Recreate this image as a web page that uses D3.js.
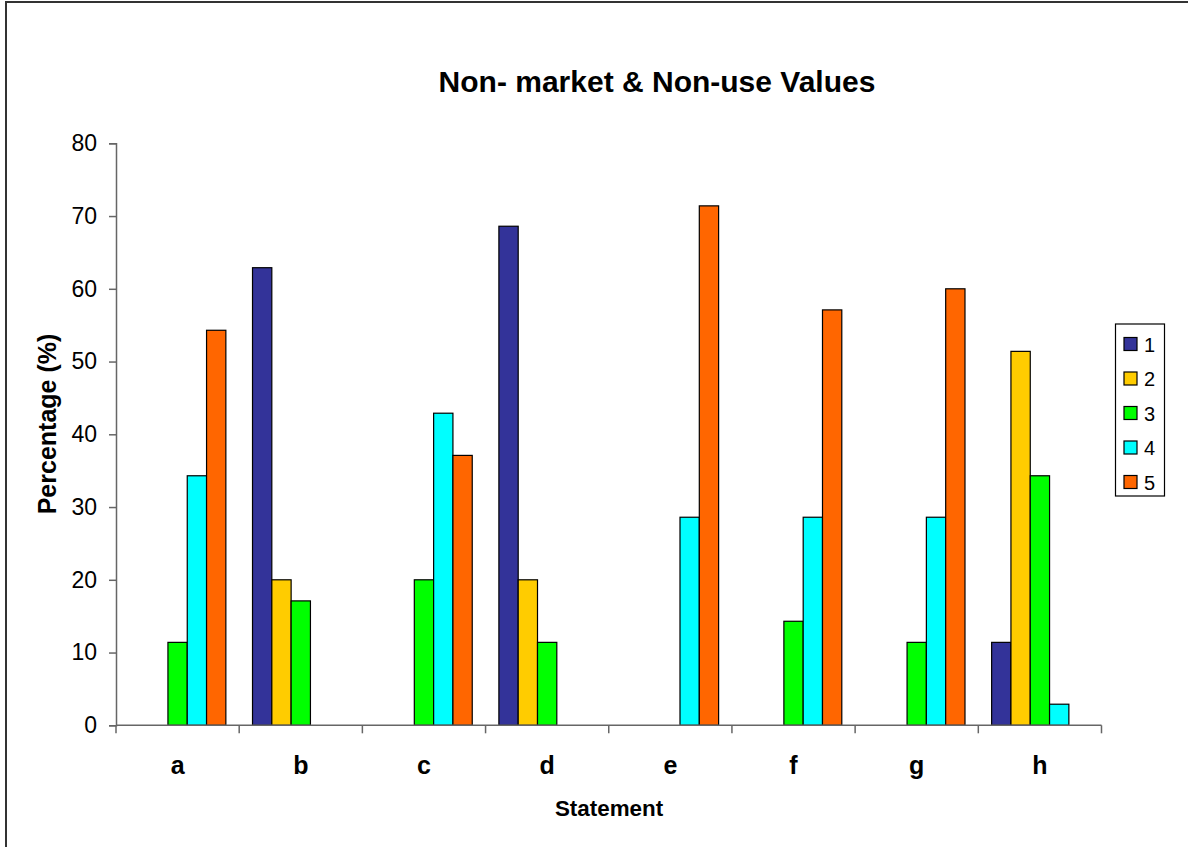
<!DOCTYPE html>
<html><head><meta charset="utf-8">
<script src="https://cdn.jsdelivr.net/npm/d3@7"></script>
<style>body{margin:0;background:#fff}svg{display:block;font-family:"Liberation Sans",Arial,sans-serif}</style>
</head><body>
<svg id="chart" width="1188" height="847"></svg>
<script>
const categories = ["a","b","c","d","e","f","g","h"];
const seriesNames = ["1","2","3","4","5"];
const s1 = [0, 62.9, 0, 68.6, 0, 0, 0, 11.4];
const s2 = [0, 20.0, 0, 20.0, 0, 0, 0, 51.4];
const s3 = [11.4, 17.1, 20.0, 11.4, 0, 14.3, 11.4, 34.3];
const s4 = [34.3, 0, 42.9, 0, 28.6, 28.6, 28.6, 2.9];
const s5 = [54.3, 0, 37.1, 0, 71.4, 57.1, 60.0, 0];
const yTicks = [0,10,20,30,40,50,60,70,80];
const colors = ["#333399","#FFCC00","#00FF00","#00FFFF","#FF6600"];
const series = [s1,s2,s3,s4,s5];

const svg = d3.select("#chart");
svg.append("rect").attr("x",6).attr("y",2).attr("width",1300).attr("height",1000)
  .attr("fill","#fff").attr("stroke","#333").attr("stroke-width",2);

const L=116, R=1101.5, T=143.3, B=725.3;
const x = d3.scaleBand().domain(categories).range([L,R]).paddingInner(0).paddingOuter(0);
const bw = x.bandwidth()/6.38;
const x1 = d3.scaleBand().domain(seriesNames).range([0, bw*5]);
const y = d3.scaleLinear().domain([0,80]).range([B,T]);

// bars
seriesNames.forEach((s,i)=>{
  svg.append("g").selectAll("rect").data(categories.map((c,j)=>({c,v:series[i][j]})).filter(d=>d.v>0))
    .join("rect")
    .attr("x",d=>x(d.c)+(x.bandwidth()-bw*5)/2+x1(s))
    .attr("y",d=>y(d.v))
    .attr("width",x1.bandwidth())
    .attr("height",d=>B-y(d.v))
    .attr("fill",colors[i]).attr("stroke","#000").attr("stroke-width",1.2);
});

// y axis
const ya = svg.append("g").attr("transform",`translate(${L},0)`)
  .call(d3.axisLeft(y).tickValues(yTicks).tickSize(7).tickPadding(12));
ya.select(".domain").attr("stroke","#666").attr("stroke-width",1.5);
ya.selectAll(".tick line").attr("stroke","#666").attr("stroke-width",1.5);
ya.selectAll("text").attr("font-size",23).attr("fill","#000").attr("font-family","Liberation Sans, Arial, sans-serif");

// x axis
const xa = svg.append("g").attr("transform",`translate(0,${B})`);
xa.append("line").attr("x1",L).attr("x2",R).attr("y1",0).attr("y2",0).attr("stroke","#666").attr("stroke-width",1.5);
xa.selectAll("line.t").data(categories.concat(["_end"])).join("line").attr("class","t")
  .attr("x1",(d,i)=>i<categories.length?x(d):R).attr("x2",(d,i)=>i<categories.length?x(d):R)
  .attr("y1",0).attr("y2",8).attr("stroke","#666").attr("stroke-width",1.5);
xa.selectAll("text").data(categories).join("text")
  .attr("x",d=>x(d)+x.bandwidth()/2).attr("y",49)
  .attr("text-anchor","middle").attr("font-size",25).attr("font-weight","bold").text(d=>d);

// titles
svg.append("text").attr("x",657).attr("y",92).attr("text-anchor","middle")
  .attr("font-size",30).attr("font-weight","bold").text("Non- market & Non-use Values");
svg.append("text").attr("x",609).attr("y",816).attr("text-anchor","middle")
  .attr("font-size",22.4).attr("font-weight","bold").text("Statement");
svg.append("text").attr("transform",`translate(55.5,424) rotate(-90)`).attr("text-anchor","middle")
  .attr("font-size",25).attr("font-weight","bold").text("Percentage (%)");

// legend
const lg = svg.append("g");
lg.append("rect").attr("x",1115.5).attr("y",324).attr("width",49).attr("height",172)
  .attr("fill","#fff").attr("stroke","#000").attr("stroke-width",1.2);
seriesNames.forEach((s,i)=>{
  const cy = 344 + i*34.5;
  lg.append("rect").attr("x",1124).attr("y",cy-6.5).attr("width",13).attr("height",13)
    .attr("fill",colors[i]).attr("stroke","#000").attr("stroke-width",1.2);
  lg.append("text").attr("x",1144).attr("y",cy+7.5).attr("font-size",20).text(s);
});
</script>
</body></html>
